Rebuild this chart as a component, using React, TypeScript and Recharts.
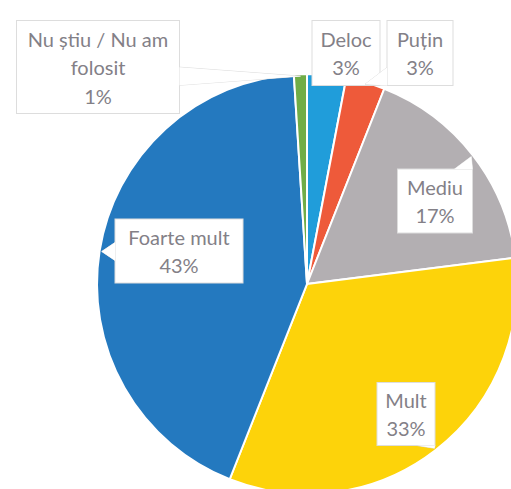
import React from "react";
import { Cell, Pie, PieChart } from "recharts";

const categories = [
  "Deloc",
  "Puțin",
  "Mediu",
  "Mult",
  "Foarte mult",
  "Nu știu / Nu am folosit",
];
const percentages = [3, 3, 17, 33, 43, 1];
const labelLines = [
  ["Deloc"],
  ["Puțin"],
  ["Mediu"],
  ["Mult"],
  ["Foarte mult"],
  ["Nu știu / Nu am", "folosit"],
];

const sliceColors = ["#209DDA", "#EE5A3A", "#B3AFB2", "#FDD30A", "#2479BF", "#70AD47"];

// callout box placement relative to the pie centre
const boxLayout = [
  { dx: 39, dy: -231, w: 68, h: 65 },
  { dx: 113, dy: -231, w: 66, h: 65 },
  { dx: 128, dy: -83, w: 75, h: 64 },
  { dx: 99, dy: 130, w: 58, h: 63 },
  { dx: -128, dy: -33, w: 128, h: 64 },
  { dx: -209, dy: -217, w: 163, h: 93 },
];

const data = categories.map((name, i) => ({
  name,
  value: percentages[i],
  lines: labelLines[i],
}));

const RADIAN = Math.PI / 180;
const LINE_H = 28.5;

const renderCallout = (props: any) => {
  const { cx, cy, midAngle, outerRadius, index } = props;
  const box = boxLayout[index];
  const bx = cx + box.dx;
  const by = cy + box.dy;
  const left = bx - box.w / 2;
  const top = by - box.h / 2;
  const right = left + box.w;
  const bottom = top + box.h;

  const tipR = outerRadius * 0.99;
  const tx = cx + tipR * Math.cos(-midAngle * RADIAN);
  const ty = cy + tipR * Math.sin(-midAngle * RADIAN);

  const inside = tx > left && tx < right && ty > top && ty < bottom;
  let wedge = "";
  if (!inside) {
    const ddx = (tx - bx) / box.w;
    const ddy = (ty - by) / box.h;
    const half = 9;
    if (Math.abs(ddx) > Math.abs(ddy)) {
      const ex = ddx > 0 ? right : left;
      const ey = Math.min(Math.max(ty, top + half), bottom - half);
      wedge = `${ex},${ey - half} ${tx},${ty} ${ex},${ey + half}`;
    } else {
      const ey = ddy > 0 ? bottom : top;
      const ex = Math.min(Math.max(tx, left + half), right - half);
      wedge = `${ex - half},${ey} ${tx},${ty} ${ex + half},${ey}`;
    }
  }

  const lines = [...data[index].lines, `${data[index].value}%`];
  const firstY = by - ((lines.length - 1) * LINE_H) / 2;

  return (
    <g key={`callout-${index}`}>
      {wedge && (
        <polygon points={wedge} fill="#FFFFFF" stroke="#DDDDDD" strokeWidth={1} />
      )}
      <rect
        x={left}
        y={top}
        width={box.w}
        height={box.h}
        fill="#FFFFFF"
        stroke="#DDDDDD"
        strokeWidth={1}
      />
      {wedge && <polygon points={wedge} fill="#FFFFFF" stroke="none" />}
      {lines.map((line, i) => (
        <text
          key={i}
          x={bx}
          y={firstY + i * LINE_H}
          textAnchor="middle"
          dominantBaseline="central"
          fill="#838087"
          fontSize={20}
          fontFamily="Lato, 'Open Sans', sans-serif"
        >
          {line}
        </text>
      ))}
    </g>
  );
};

export default function App() {
  return (
    <div style={{ position: "absolute", left: 0, top: 0, background: "#FFFFFF" }}>
      <PieChart width={511} height={489}>
        <Pie
          data={data}
          dataKey="value"
          nameKey="name"
          cx={302}
          cy={279}
          innerRadius={0}
          outerRadius={210}
          startAngle={90}
          endAngle={-270}
          stroke="#FFFFFF"
          strokeWidth={2}
          label={renderCallout}
          labelLine={false}
          isAnimationActive={false}
        >
          {data.map((entry, index) => (
            <Cell key={`cell-${index}`} fill={sliceColors[index]} />
          ))}
        </Pie>
      </PieChart>
    </div>
  );
}
